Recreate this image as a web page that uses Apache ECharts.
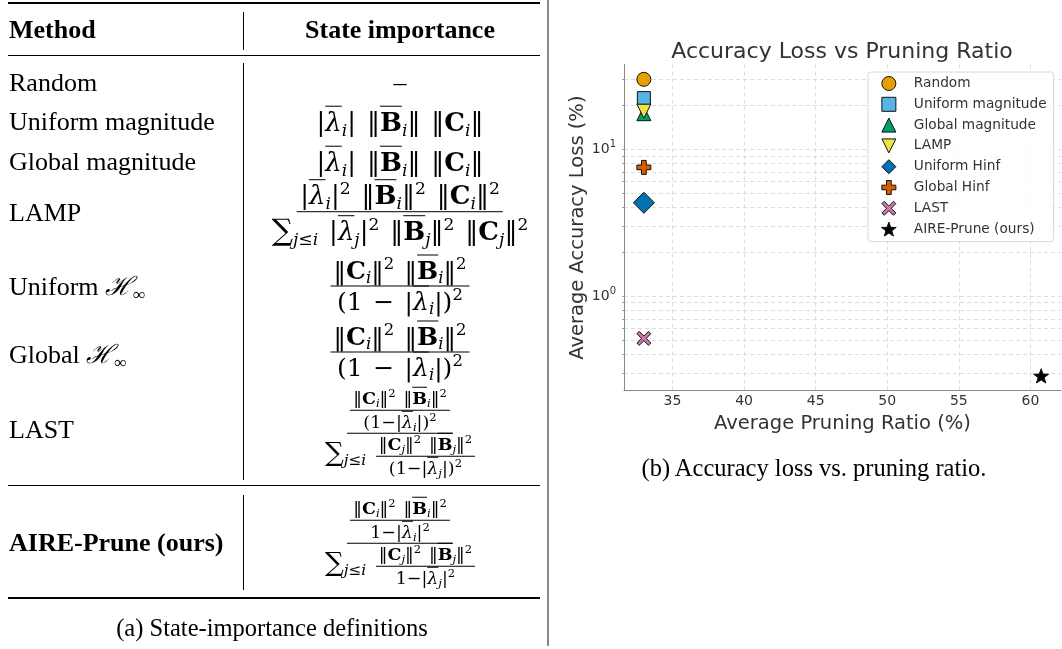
<!DOCTYPE html>
<html>
<head>
<meta charset="utf-8">
<script src="https://cdn.jsdelivr.net/npm/echarts@6/dist/echarts.min.js"></script>
<style>
  html, body { margin: 0; padding: 0; background: #fff; }
  #chart { position: absolute; left: 0; top: 0; width: 1062px; height: 649px; }
  #panelA { position: absolute; left: 0; top: 0; width: 1062px; height: 649px; pointer-events: none;
            font-family: "Liberation Serif", "DejaVu Serif", serif; color: #000; }
  .cell { position: absolute; white-space: nowrap; line-height: 1.1; }
  .math { font-family: "DejaVu Serif", serif; word-spacing: 0.1em; }
  .rule { position: absolute; background: #000; }
  .ov { text-decoration: overline; text-decoration-thickness: 1px; }
  sub { font-size: 0.66em; vertical-align: -0.28em; line-height: 0; }
  sup { font-size: 0.66em; vertical-align: 0.6em; line-height: 0; }
  .fr { display: inline-flex; flex-direction: column; align-items: center; vertical-align: middle; }
  .fr > .n { border-bottom: 1px solid #000; padding: 0 3px 1px; line-height: 1.12; }
  .fr > .d { padding: 1px 3px 0; line-height: 1.12; }
  .sm { font-size: 0.76em; }
  .sm .fr > .n { line-height: 1.08; padding-bottom: 2px; }
  .sm .fr > .d { line-height: 1.08; padding-top: 2px; }
  .sum { font-size: 1.15em; }
  .cal { font-family: "DejaVu Serif", serif; font-style: italic; }
</style>
</head>
<body>
<div id="chart"></div>
<div id="panelA"></div>
<script>
// ---- scatter data: average pruning ratio (%) and average accuracy loss (%) per method
const methods = ['Random', 'Uniform magnitude', 'Global magnitude', 'LAMP',
                 'Uniform Hinf', 'Global Hinf', 'LAST', 'AIRE-Prune (ours)'];
const pruningRatio = [33.0, 33.0, 33.0, 33.0, 33.0, 33.0, 33.0, 60.75];
const accuracyLoss = [29.8, 22.2, 17.4, 18.1, 4.31, 7.5, 0.515, 0.286];

// axis ticks and grid positions
const xTicks = [35, 40, 45, 50, 55, 60];
const yGridValues = [0.3, 0.4, 0.5, 0.6, 0.7, 0.8, 0.9, 1, 2, 3, 4, 5, 6, 7, 8, 9, 10, 20, 30];
const yDecadeExponents = { 1: '0', 10: '1' };

// ---- table: method names
const tableMethods = ['Random', 'Uniform magnitude', 'Global magnitude', 'LAMP',
                      'Uniform <span class="cal">ℋ</span><sub>∞</sub>',
                      'Global <span class="cal">ℋ</span><sub>∞</sub>', 'LAST', 'AIRE-Prune (ours)'];

// marker styles, one per method (paths keep their aspect in the legend too)
const markerStyles = [
  { symbol: 'circle', size: 14, color: '#E69F00' },
  { symbol: 'path://M-1,-1H1V1H-1Z', size: 13, color: '#56B4E9' },
  { symbol: 'path://M0,-1L1,1L-1,1Z', size: 14, color: '#009E73' },
  { symbol: 'path://M-1,-1L1,-1L0,1Z', size: 14, color: '#F0E442' },
  { symbol: 'path://M0,-1L1,0L0,1L-1,0Z', size: 21, color: '#0072B2' },
  { symbol: 'path://M-1,-3H1V-1H3V1H1V3H-1V1H-3V-1H-1Z', size: 14, color: '#D55E00' },
  { symbol: 'path://M-3,-2L-2,-3L0,-1L2,-3L3,-2L1,0L3,2L2,3L0,1L-2,3L-3,2L-1,0Z', size: 14, color: '#CC79A7' },
  { symbol: 'path://M0,-10L2.35,-3.24L9.51,-3.09L3.8,1.24L5.88,8.09L0,4.2L-5.88,8.09L-3.8,1.24L-9.51,-3.09L-2.35,-3.24Z', size: 15, color: '#000000' }
];

const chart = echarts.init(document.getElementById('chart'), null, { renderer: 'canvas' });
const FONT = 'DejaVu Sans';
const gridLine = { show: true, lineStyle: { color: '#d4d4d4', type: [4, 3], width: 0.8 } };

chart.setOption({
  animation: false,
  backgroundColor: '#fff',
  title: {
    text: 'Accuracy Loss vs Pruning Ratio',
    left: 842, top: 41, textAlign: 'center', padding: 0,
    textStyle: { fontFamily: FONT, fontSize: 22, fontWeight: 'normal', color: '#333' }
  },
  grid: { left: 624, top: 64.5, right: 1, bottom: 258.3, outerBoundsMode: 'none', containLabel: false },
  legend: {
    orient: 'vertical', left: 868, top: 72,
    padding: [4, 7, 5, 13], itemWidth: 40, itemHeight: 14, itemGap: 5.8,
    symbolKeepAspect: true,
    borderColor: '#d8d8d8', borderWidth: 1, borderRadius: 3,
    backgroundColor: 'rgba(255,255,255,0.85)',
    itemStyle: { borderColor: '#111', borderWidth: 1 },
    textStyle: { fontFamily: FONT, fontSize: 13.7, color: '#333' },
    data: methods
  },
  xAxis: {
    type: 'value', min: 31.6125, max: 62.1375,
    name: 'Average Pruning Ratio (%)', nameLocation: 'middle', nameGap: 19,
    nameTextStyle: { fontFamily: FONT, fontSize: 19.5, color: '#333' },
    axisLine: { show: true, lineStyle: { color: '#888', width: 1 } },
    axisTick: { show: false, customValues: xTicks },
    axisLabel: { customValues: xTicks, margin: 4, fontFamily: FONT, fontSize: 14, color: '#333' },
    splitLine: gridLine
  },
  yAxis: {
    type: 'log', logBase: 10, min: 0.2268, max: 37.6,
    name: 'Average Accuracy Loss (%)', nameLocation: 'middle', nameGap: 32, nameRotate: 90,
    nameTextStyle: { fontFamily: FONT, fontSize: 19.5, color: '#333' },
    axisLine: { show: true, lineStyle: { color: '#888', width: 1 } },
    axisTick: { show: true, inside: false, length: 2, customValues: yGridValues,
                lineStyle: { color: '#888', width: 0.8 } },
    axisLabel: {
      customValues: yGridValues, margin: 8,
      formatter: v => {
        const key = Math.round(v * 1000) / 1000;
        return yDecadeExponents[key] !== undefined ? '{b|10}{e|' + yDecadeExponents[key] + '}' : '';
      },
      rich: {
        b: { fontFamily: FONT, fontSize: 14, color: '#333', lineHeight: 20 },
        e: { fontFamily: FONT, fontSize: 10, color: '#333', verticalAlign: 'top', lineHeight: 20 }
      }
    },
    splitLine: gridLine
  },
  series: methods.map((name, i) => ({
    name: name,
    type: 'scatter',
    symbol: markerStyles[i].symbol,
    symbolSize: markerStyles[i].size,
    symbolKeepAspect: true,
    itemStyle: { color: markerStyles[i].color, borderColor: '#111', borderWidth: 1, opacity: 1 },
    data: [[pruningRatio[i], accuracyLoss[i]]],
    z: 3
  }))
});

// ---- left panel: table of state-importance definitions
const lam = s => `<span class="ov"><i>λ</i></span><sub><i>${s}</i></sub>`;
const B = s => `<span class="ov"><b>B</b></span><sub><i>${s}</i></sub>`;
const C = s => `<b>C</b><sub><i>${s}</i></sub>`;
const frac = (n, d) => `<span class="fr"><span class="n">${n}</span><span class="d">${d}</span></span>`;
const sumJ = `<span class="sum">∑</span><sub><i>j</i>≤<i>i</i></sub>`;
const magnitude = `|${lam('i')}| ‖${B('i')}‖ ‖${C('i')}‖`;
const hinfNum = s => `‖${C(s)}‖<sup>2</sup> ‖${B(s)}‖<sup>2</sup>`;
const hinfDen = s => `(1 − |${lam(s)}|)<sup>2</sup>`;
const lastDen = s => `(1−|${lam(s)}|)<sup>2</sup>`;
const aireDen = s => `1−|${lam(s)}|<sup>2</sup>`;

const definitions = [
  '–',
  magnitude,
  magnitude,
  frac(`|${lam('i')}|<sup>2</sup> ‖${B('i')}‖<sup>2</sup> ‖${C('i')}‖<sup>2</sup>`,
       `${sumJ} |${lam('j')}|<sup>2</sup> ‖${B('j')}‖<sup>2</sup> ‖${C('j')}‖<sup>2</sup>`),
  frac(hinfNum('i'), hinfDen('i')),
  frac(hinfNum('i'), hinfDen('i')),
  frac(`<span class="sm">${frac(hinfNum('i'), lastDen('i'))}</span>`,
       `${sumJ} <span class="sm">${frac(hinfNum('j'), lastDen('j'))}</span>`),
  frac(`<span class="sm">${frac(hinfNum('i'), aireDen('i'))}</span>`,
       `${sumJ} <span class="sm">${frac(hinfNum('j'), aireDen('j'))}</span>`)
];
const rowLabelY = [83, 122, 162, 213, 287, 355, 430, 543];
const rowFormulaY = [83, 122, 162, 214, 286, 352, 433, 543];
const formulaSize = [26, 26, 26, 26, 25, 25, 23, 23];

const panel = document.getElementById('panelA');
const add = (html, x, y, opts) => {
  const el = document.createElement('div');
  el.className = 'cell' + (opts.math ? ' math' : '');
  el.innerHTML = html;
  el.style.left = x + 'px';
  el.style.top = y + 'px';
  el.style.fontSize = (opts.size || 26) + 'px';
  if (opts.bold) el.style.fontWeight = 'bold';
  el.style.transform = opts.center ? 'translate(-50%, -50%)' : 'translate(0, -50%)';
  panel.appendChild(el);
};
const rule = (x, y, w, h, color) => {
  const el = document.createElement('div');
  el.className = 'rule';
  Object.assign(el.style, { left: x + 'px', top: y + 'px', width: w + 'px', height: h + 'px' });
  if (color) el.style.background = color;
  panel.appendChild(el);
};

// horizontal rules
rule(8, 2, 532, 2);
rule(8, 55, 532, 1);
rule(8, 485, 532, 1);
rule(8, 597, 532, 2);
// column separators
rule(243, 12, 1, 38);
rule(243, 63, 1, 417);
rule(243, 495, 1, 95);
// panel divider
rule(547, 0, 1.5, 646, '#8a8a8a');

add('Method', 9, 30, { bold: true });
add('State importance', 400, 30, { bold: true, center: true });
tableMethods.forEach((m, i) => add(m, 9, rowLabelY[i], { bold: i === 7 }));
definitions.forEach((d, i) => add(d, 400, rowFormulaY[i], { center: true, size: formulaSize[i], math: i > 0 }));

add('(a) State-importance definitions', 272, 628, { center: true, size: 24.5 });
add('(b) Accuracy loss vs. pruning ratio.', 814, 468, { center: true, size: 24.5 });
</script>
</body>
</html>
